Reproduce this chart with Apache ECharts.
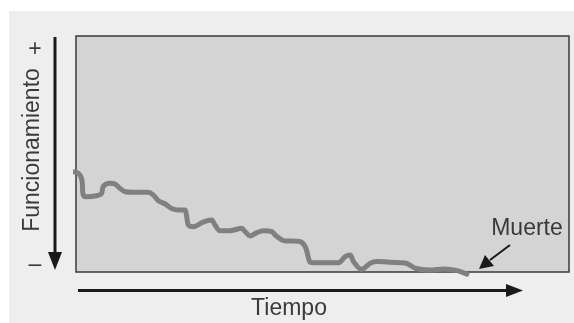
<!DOCTYPE html>
<html><head><meta charset="utf-8">
<script src="https://cdn.jsdelivr.net/npm/echarts@6/dist/echarts.min.js"></script>
<style>html,body{margin:0;padding:0;background:#fff}#c{width:574px;height:323px}</style>
</head><body><div id="c"></div>
<script>
// Time (0-100 across the box) and functioning (0-100 from bottom to top of the box)
const tiempo = [-0.9,0.5,1.2,1.4,1.8,4.2,5.2,5.5,6.9,7.9,8.9,10.0,11.6,14.6,15.7,16.7,18.1,19.4,20.8,22.1,22.4,22.8,23.8,25.8,27.5,28.2,29.2,31.2,33.6,34.3,35.3,36.7,38.0,39.7,40.7,42.1,45.4,46.5,47.1,47.5,48.5,53.2,54.6,55.6,56.3,57.9,59.7,61.0,63.9,67.0,68.8,71.8,74.6,77.3,79.3];
const funcionamiento = [42.5,41.8,39.0,33.3,31.9,32.3,33.3,36.2,37.6,37.3,35.5,34.0,33.8,33.8,32.6,30.2,28.8,26.9,26.3,26.3,24.2,19.9,19.2,21.1,22.0,19.9,17.5,17.5,18.5,17.1,15.3,16.7,17.5,17.1,15.1,13.3,12.9,10.7,6.5,4.1,3.9,3.9,6.5,7.2,4.4,1.1,3.7,4.4,4.1,3.7,1.6,0.8,1.3,0.6,-0.9];

const chart = echarts.init(document.getElementById('c'), null, {renderer:'canvas'});
const data = tiempo.map((t,i)=>[t,funcionamiento[i]]);
const txt = '#3a3a3a';
const fnt = '"Liberation Sans", Arial, sans-serif';
chart.setOption({
  animation:false,
  backgroundColor:'#ffffff',
  grid:{left:76,top:36,width:493,height:236,show:true,backgroundColor:'#d4d4d5',borderColor:'#3a3a3a',borderWidth:1.5,z:1},
  xAxis:{type:'value',min:0,max:100,show:false},
  yAxis:{type:'value',min:0,max:100,show:false},
  graphic:[
    {type:'rect',shape:{x:9,y:11,width:565,height:312},style:{fill:'#eeeeee'},z:-10,silent:true},
    {type:'line',shape:{x1:55,y1:37,x2:55,y2:255},style:{stroke:'#1a1a1a',lineWidth:3},z:10},
    {type:'polygon',shape:{points:[[48,252],[62,252],[55,270]]},style:{fill:'#1a1a1a'},z:10},
    {type:'line',shape:{x1:78,y1:290.5,x2:510,y2:290.5},style:{stroke:'#1a1a1a',lineWidth:3},z:10},
    {type:'polygon',shape:{points:[[506,284],[506,297],[523,290.5]]},style:{fill:'#1a1a1a'},z:10},
    {type:'line',shape:{x1:510,y1:245,x2:490,y2:260},style:{stroke:'#1a1a1a',lineWidth:2},z:10},
    {type:'polygon',shape:{points:[[479,269],[485,255],[494,266]]},style:{fill:'#1a1a1a'},z:10},
    {type:'text',x:527,y:229,style:{text:'Muerte',font:'23px '+fnt,fill:txt,textAlign:'center',textVerticalAlign:'middle'},z:10},
    {type:'text',x:289,y:309,style:{text:'Tiempo',font:'23px '+fnt,fill:txt,textAlign:'center',textVerticalAlign:'middle'},z:10},
    {type:'text',x:33,y:150,rotation:Math.PI/2,style:{text:'Funcionamiento',font:'23px '+fnt,fill:txt,textAlign:'center',textVerticalAlign:'middle'},z:10},
    {type:'text',x:35,y:50,style:{text:'+',font:'23px '+fnt,fill:txt,textAlign:'center',textVerticalAlign:'middle'},z:10},
    {type:'text',x:35,y:265,style:{text:'–',font:'23px '+fnt,fill:txt,textAlign:'center',textVerticalAlign:'middle'},z:10}
  ],
  series:[{type:'line',data:data,showSymbol:false,smooth:0.3,clip:false,
    lineStyle:{color:'#808080',width:5,cap:'round',join:'round'},z:5}]
});
</script></body></html>
